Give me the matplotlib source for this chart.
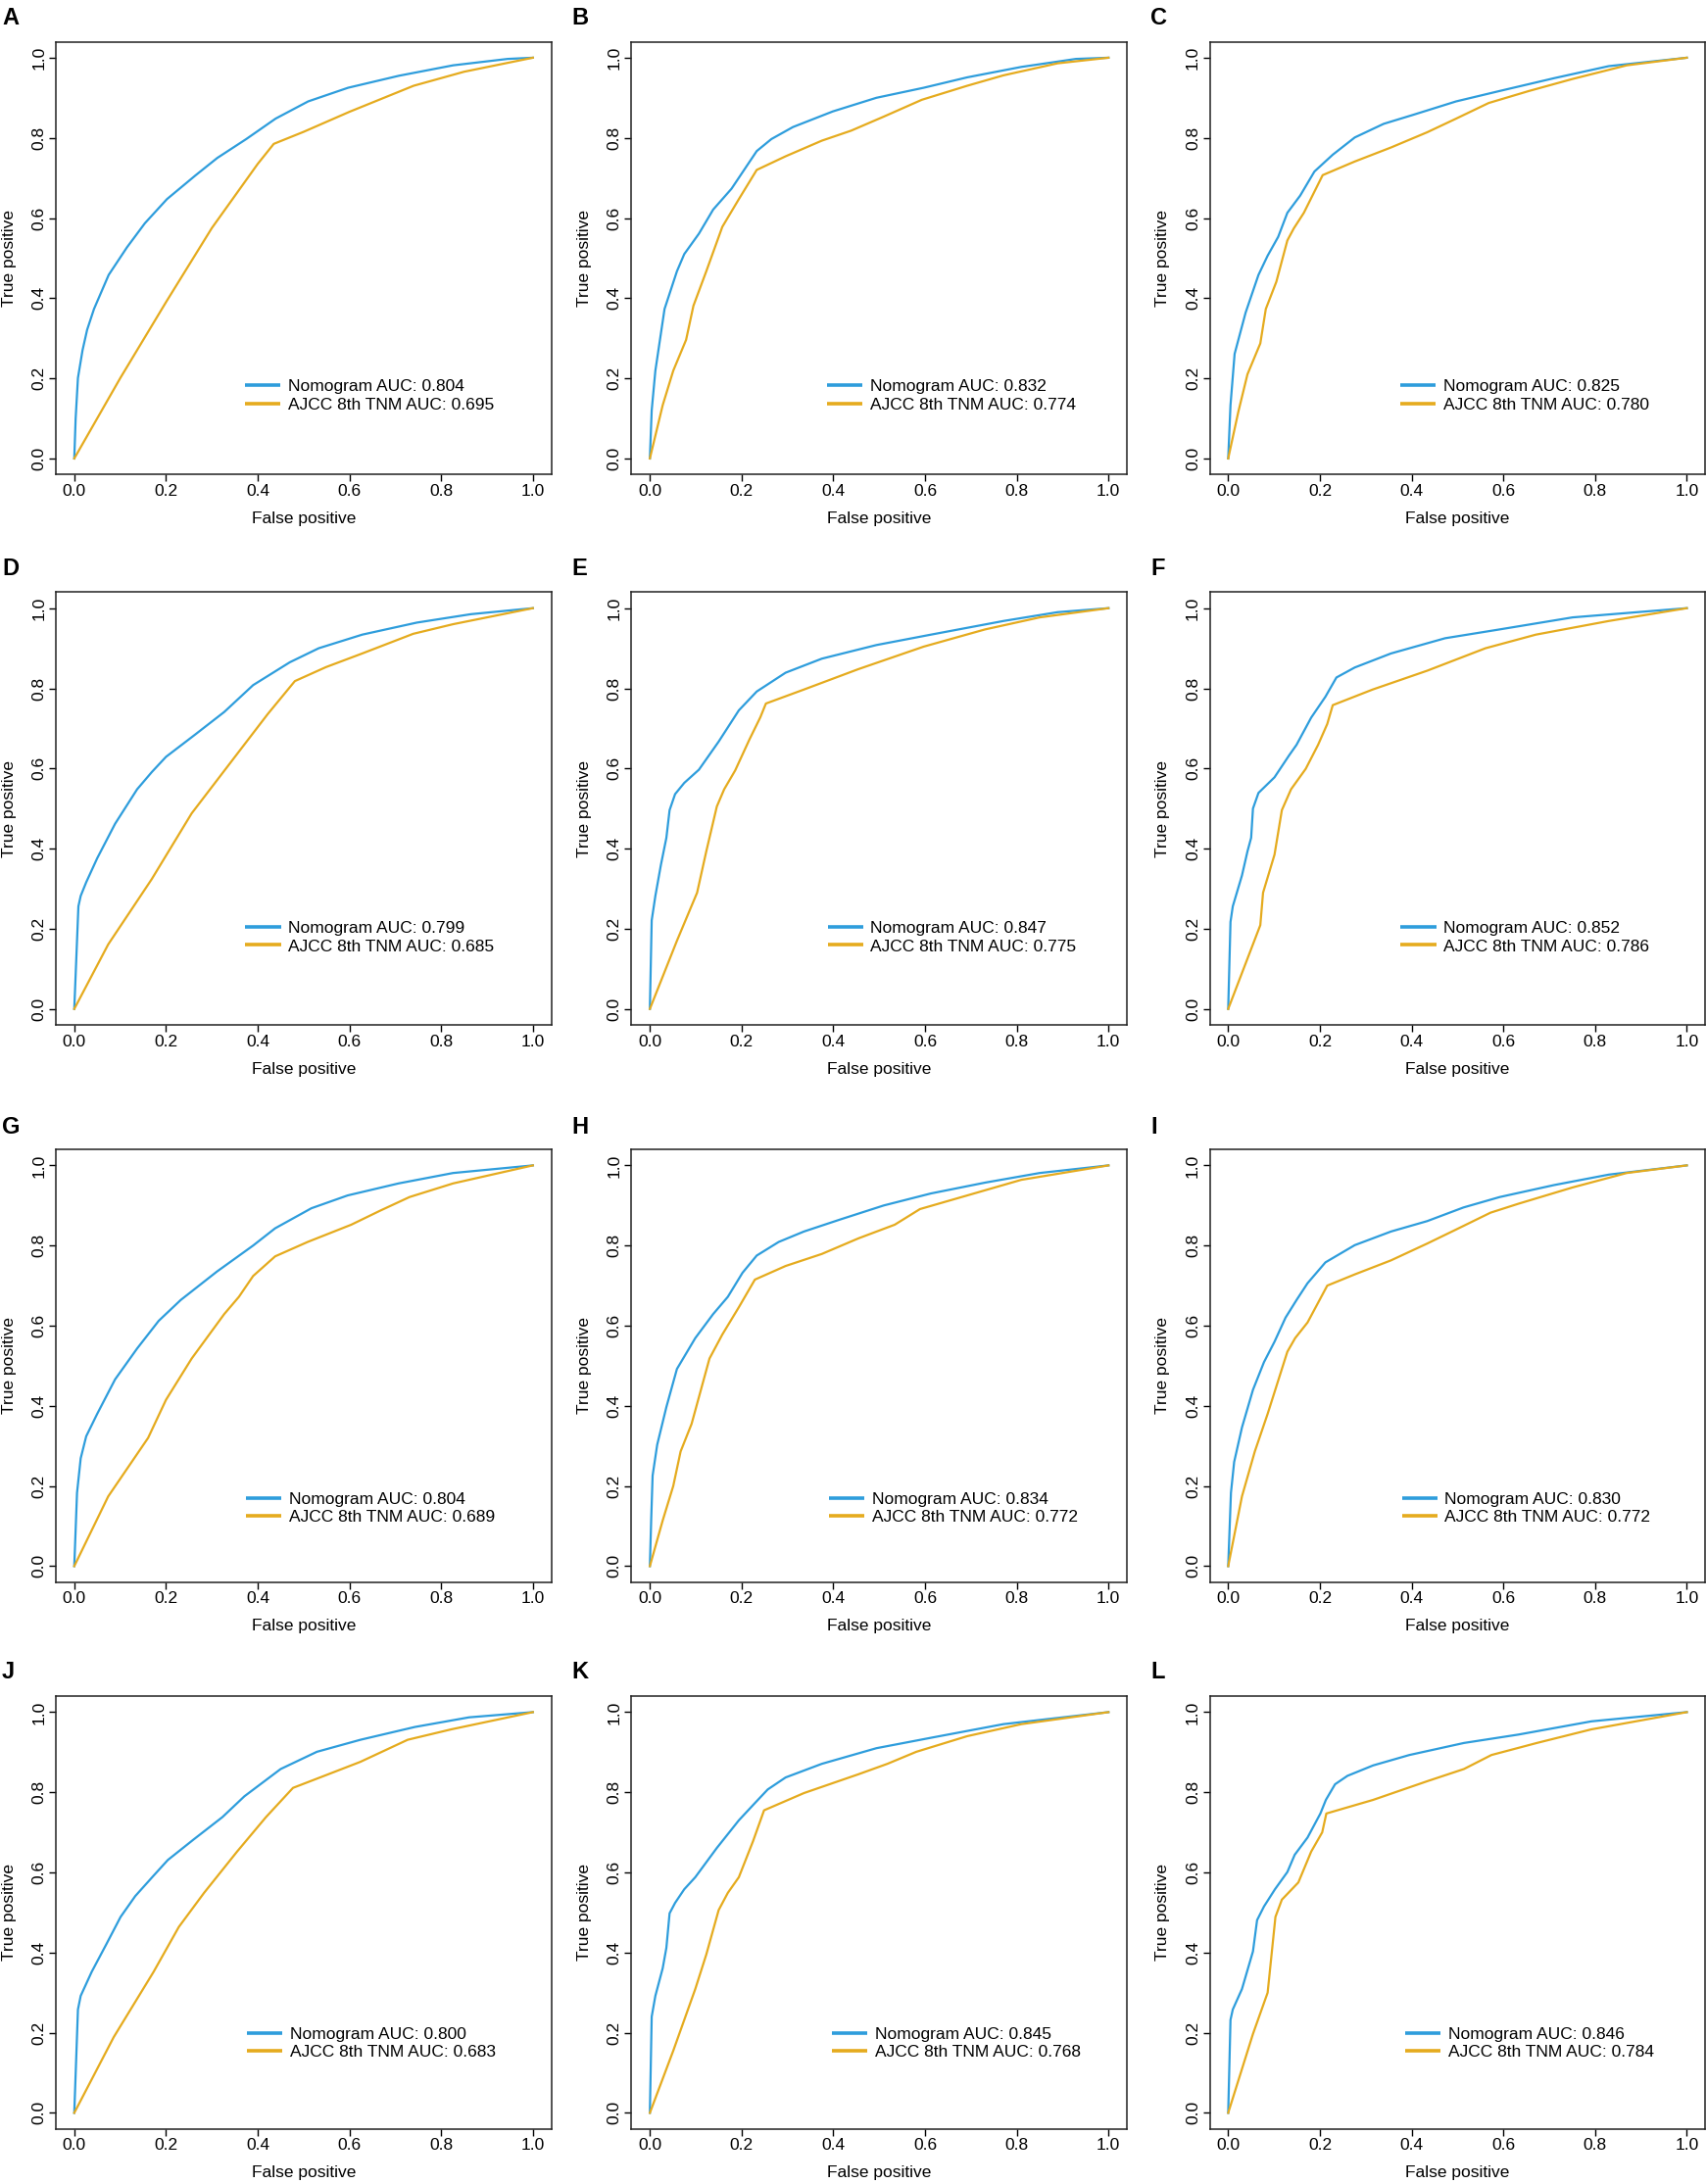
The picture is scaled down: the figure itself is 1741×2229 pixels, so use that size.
import matplotlib
matplotlib.use("Agg")
import matplotlib.pyplot as plt
from matplotlib.lines import Line2D

plt.rcParams['font.family'] = ['Liberation Sans', 'DejaVu Sans']

# ---------------- data ----------------
panel_letters = ["A", "B", "C", "D", "E", "F", "G", "H", "I", "J", "K", "L"]
nom_auc = ["0.804", "0.832", "0.825", "0.799", "0.847", "0.852",
           "0.804", "0.834", "0.830", "0.800", "0.845", "0.846"]
tnm_auc = ["0.695", "0.774", "0.780", "0.685", "0.775", "0.786",
           "0.689", "0.772", "0.772", "0.683", "0.768", "0.784"]

A_nom_x = [0, 0.003, 0.008, 0.018, 0.028, 0.043, 0.075, 0.115, 0.154, 0.202, 0.265, 0.312, 0.375, 0.439, 0.51, 0.597, 0.708, 0.826, 0.945, 1]
A_nom_y = [0, 0.10, 0.201, 0.27, 0.321, 0.373, 0.458, 0.527, 0.587, 0.647, 0.707, 0.75, 0.797, 0.848, 0.891, 0.925, 0.955, 0.981, 0.997, 1]
A_tnm_x = [0, 0.1, 0.2, 0.3, 0.35, 0.4, 0.435, 0.5, 0.6, 0.74, 0.85, 1]
A_tnm_y = [0, 0.2, 0.39, 0.575, 0.655, 0.735, 0.785, 0.815, 0.865, 0.93, 0.965, 1]

B_nom_x = [0, 0.004, 0.012, 0.032, 0.059, 0.075, 0.107, 0.138, 0.178, 0.233, 0.265, 0.312, 0.399, 0.494, 0.597, 0.692, 0.81, 0.929, 1]
B_nom_y = [0, 0.12, 0.219, 0.373, 0.467, 0.51, 0.561, 0.621, 0.673, 0.767, 0.797, 0.827, 0.866, 0.9, 0.925, 0.951, 0.977, 0.997, 1]
B_tnm_x = [0, 0.028, 0.051, 0.079, 0.095, 0.123, 0.158, 0.194, 0.233, 0.296, 0.375, 0.439, 0.51, 0.593, 0.692, 0.771, 0.889, 1]
B_tnm_y = [0, 0.133, 0.219, 0.296, 0.381, 0.467, 0.578, 0.647, 0.72, 0.754, 0.793, 0.818, 0.853, 0.895, 0.93, 0.956, 0.986, 1]

C_nom_x = [0, 0.005, 0.014, 0.038, 0.066, 0.086, 0.109, 0.129, 0.157, 0.188, 0.228, 0.276, 0.339, 0.402, 0.497, 0.592, 0.711, 0.83, 1]
C_nom_y = [0, 0.133, 0.261, 0.364, 0.458, 0.506, 0.553, 0.613, 0.656, 0.716, 0.758, 0.801, 0.835, 0.857, 0.891, 0.917, 0.949, 0.979, 1]
C_tnm_x = [0, 0.022, 0.042, 0.07, 0.082, 0.105, 0.129, 0.143, 0.165, 0.206, 0.276, 0.355, 0.434, 0.497, 0.568, 0.656, 0.751, 0.869, 1]
C_tnm_y = [0, 0.116, 0.21, 0.287, 0.373, 0.441, 0.544, 0.574, 0.613, 0.707, 0.741, 0.776, 0.814, 0.848, 0.887, 0.917, 0.947, 0.981, 1]

D_nom_x = [0, 0.009, 0.014, 0.026, 0.05, 0.089, 0.137, 0.169, 0.2, 0.264, 0.327, 0.39, 0.47, 0.533, 0.628, 0.747, 0.865, 1]
D_nom_y = [0, 0.256, 0.282, 0.316, 0.376, 0.462, 0.548, 0.591, 0.629, 0.685, 0.741, 0.808, 0.865, 0.9, 0.934, 0.964, 0.985, 1]
D_tnm_x = [0, 0.074, 0.169, 0.256, 0.359, 0.422, 0.481, 0.549, 0.628, 0.739, 0.826, 1]
D_tnm_y = [0, 0.161, 0.324, 0.488, 0.642, 0.736, 0.818, 0.853, 0.887, 0.936, 0.96, 1]

E_nom_x = [0, 0.004, 0.012, 0.024, 0.036, 0.043, 0.055, 0.075, 0.107, 0.15, 0.194, 0.233, 0.296, 0.375, 0.494, 0.613, 0.771, 0.889, 1]
E_nom_y = [0, 0.221, 0.282, 0.359, 0.427, 0.496, 0.536, 0.564, 0.597, 0.667, 0.745, 0.792, 0.839, 0.874, 0.908, 0.934, 0.968, 0.99, 1]
E_tnm_x = [0, 0.059, 0.103, 0.123, 0.146, 0.162, 0.186, 0.217, 0.241, 0.253, 0.336, 0.455, 0.597, 0.731, 0.85, 1]
E_tnm_y = [0, 0.17, 0.29, 0.393, 0.505, 0.548, 0.595, 0.672, 0.728, 0.762, 0.797, 0.848, 0.904, 0.947, 0.977, 1]

F_nom_x = [0, 0.005, 0.01, 0.03, 0.042, 0.05, 0.054, 0.066, 0.101, 0.133, 0.149, 0.181, 0.212, 0.236, 0.276, 0.355, 0.473, 0.592, 0.751, 1]
F_nom_y = [0, 0.217, 0.256, 0.333, 0.393, 0.427, 0.5, 0.539, 0.578, 0.633, 0.659, 0.727, 0.779, 0.827, 0.852, 0.887, 0.925, 0.947, 0.977, 1]
F_tnm_x = [0, 0.07, 0.076, 0.101, 0.117, 0.137, 0.169, 0.196, 0.216, 0.228, 0.315, 0.434, 0.561, 0.671, 0.83, 1]
F_tnm_y = [0, 0.209, 0.29, 0.385, 0.496, 0.548, 0.599, 0.659, 0.711, 0.758, 0.797, 0.844, 0.9, 0.934, 0.968, 1]

G_nom_x = [0, 0.006, 0.014, 0.026, 0.05, 0.089, 0.137, 0.184, 0.232, 0.311, 0.39, 0.438, 0.517, 0.596, 0.707, 0.826, 1]
G_nom_y = [0, 0.183, 0.269, 0.324, 0.38, 0.466, 0.543, 0.612, 0.664, 0.735, 0.80, 0.843, 0.893, 0.925, 0.955, 0.981, 1]
G_tnm_x = [0, 0.074, 0.161, 0.2, 0.256, 0.327, 0.359, 0.39, 0.438, 0.509, 0.604, 0.667, 0.731, 0.826, 1]
G_tnm_y = [0, 0.174, 0.32, 0.415, 0.518, 0.629, 0.672, 0.724, 0.773, 0.809, 0.852, 0.887, 0.921, 0.955, 1]

H_nom_x = [0, 0.003, 0.006, 0.016, 0.036, 0.059, 0.099, 0.138, 0.17, 0.202, 0.233, 0.281, 0.336, 0.415, 0.51, 0.613, 0.731, 0.85, 1]
H_nom_y = [0, 0.12, 0.226, 0.303, 0.397, 0.492, 0.569, 0.629, 0.672, 0.732, 0.775, 0.809, 0.835, 0.865, 0.9, 0.93, 0.957, 0.981, 1]
H_tnm_x = [0, 0.028, 0.051, 0.067, 0.091, 0.13, 0.158, 0.194, 0.229, 0.296, 0.375, 0.455, 0.534, 0.589, 0.692, 0.81, 1]
H_tnm_y = [0, 0.114, 0.2, 0.286, 0.355, 0.518, 0.578, 0.646, 0.715, 0.749, 0.779, 0.818, 0.852, 0.891, 0.925, 0.964, 1]

I_nom_x = [0, 0.006, 0.013, 0.03, 0.054, 0.078, 0.101, 0.125, 0.149, 0.173, 0.212, 0.276, 0.355, 0.434, 0.513, 0.592, 0.711, 0.83, 1]
I_nom_y = [0, 0.183, 0.26, 0.346, 0.44, 0.509, 0.56, 0.62, 0.664, 0.706, 0.758, 0.801, 0.835, 0.861, 0.895, 0.921, 0.951, 0.977, 1]
I_tnm_x = [0, 0.03, 0.058, 0.086, 0.129, 0.146, 0.173, 0.216, 0.276, 0.355, 0.434, 0.497, 0.572, 0.632, 0.751, 0.869, 1]
I_tnm_y = [0, 0.174, 0.286, 0.38, 0.535, 0.569, 0.608, 0.7, 0.728, 0.763, 0.805, 0.84, 0.882, 0.904, 0.945, 0.981, 1]

J_nom_x = [0, 0.008, 0.014, 0.038, 0.07, 0.101, 0.133, 0.173, 0.204, 0.26, 0.323, 0.371, 0.45, 0.529, 0.624, 0.743, 0.861, 1]
J_nom_y = [0, 0.258, 0.292, 0.352, 0.421, 0.489, 0.541, 0.592, 0.631, 0.682, 0.738, 0.79, 0.858, 0.901, 0.931, 0.963, 0.987, 1]
J_tnm_x = [0, 0.086, 0.173, 0.228, 0.283, 0.355, 0.418, 0.477, 0.545, 0.624, 0.727, 0.822, 1]
J_tnm_y = [0, 0.189, 0.352, 0.464, 0.549, 0.652, 0.738, 0.811, 0.841, 0.876, 0.931, 0.957, 1]

K_nom_x = [0, 0.004, 0.012, 0.028, 0.036, 0.043, 0.055, 0.075, 0.099, 0.146, 0.194, 0.229, 0.257, 0.296, 0.375, 0.494, 0.613, 0.771, 1]
K_nom_y = [0, 0.24, 0.292, 0.361, 0.412, 0.498, 0.524, 0.558, 0.588, 0.661, 0.73, 0.773, 0.807, 0.837, 0.871, 0.91, 0.936, 0.97, 1]
K_tnm_x = [0, 0.051, 0.099, 0.123, 0.15, 0.17, 0.194, 0.225, 0.249, 0.336, 0.455, 0.518, 0.581, 0.692, 0.81, 1]
K_tnm_y = [0, 0.155, 0.309, 0.395, 0.506, 0.549, 0.588, 0.678, 0.755, 0.798, 0.845, 0.871, 0.901, 0.94, 0.97, 1]

L_nom_x = [0, 0.005, 0.01, 0.03, 0.054, 0.063, 0.078, 0.102, 0.129, 0.145, 0.173, 0.201, 0.213, 0.233, 0.26, 0.316, 0.395, 0.514, 0.633, 0.792, 1]
L_nom_y = [0, 0.232, 0.258, 0.309, 0.403, 0.481, 0.515, 0.558, 0.601, 0.644, 0.687, 0.747, 0.781, 0.82, 0.841, 0.867, 0.893, 0.923, 0.944, 0.977, 1]
L_tnm_x = [0, 0.054, 0.086, 0.103, 0.117, 0.153, 0.181, 0.205, 0.214, 0.316, 0.435, 0.514, 0.574, 0.673, 0.792, 1]
L_tnm_y = [0, 0.197, 0.3, 0.489, 0.532, 0.575, 0.652, 0.7, 0.747, 0.781, 0.828, 0.858, 0.893, 0.923, 0.957, 1]

tick_values = [0.0, 0.2, 0.4, 0.6, 0.8, 1.0]
tick_labels = ["0.0", "0.2", "0.4", "0.6", "0.8", "1.0"]
x_label = "False positive"
y_label = "True positive"
series_names = ["Nomogram AUC: ", "AJCC 8th TNM AUC: "]

curves = [
    (A_nom_x, A_nom_y, A_tnm_x, A_tnm_y), (B_nom_x, B_nom_y, B_tnm_x, B_tnm_y),
    (C_nom_x, C_nom_y, C_tnm_x, C_tnm_y), (D_nom_x, D_nom_y, D_tnm_x, D_tnm_y),
    (E_nom_x, E_nom_y, E_tnm_x, E_tnm_y), (F_nom_x, F_nom_y, F_tnm_x, F_tnm_y),
    (G_nom_x, G_nom_y, G_tnm_x, G_tnm_y), (H_nom_x, H_nom_y, H_tnm_x, H_tnm_y),
    (I_nom_x, I_nom_y, I_tnm_x, I_tnm_y), (J_nom_x, J_nom_y, J_tnm_x, J_tnm_y),
    (K_nom_x, K_nom_y, K_tnm_x, K_tnm_y), (L_nom_x, L_nom_y, L_tnm_x, L_tnm_y),
]

# ---------------- layout / style ----------------
W, H = 1741, 2229
col_x0 = [75.8, 663.2, 1253.4]          # pixel x of data 0
row_y1 = [58.9, 620.7, 1189.4, 1747.4]  # pixel y of data 1
span_x, span_y = 468.0, 409.0
letter_x = [2, 583, 1174]
letter_top = [7, 569, 1139, 1695]
leg_x = [0.3716, 0.3858, 0.3745, 0.3729, 0.3874, 0.3761,
         0.3745, 0.3897, 0.3785, 0.3769, 0.3968, 0.3857]
leg_ymid = [0.156, 0.1786, 0.1442, 0.1734]

BLUE = "#2E9DDC"
GOLD = "#E5AB1E"
FS = 12.5

fig = plt.figure(figsize=(W / 100, H / 100), dpi=100)

for i, letter in enumerate(panel_letters):
    r, c = divmod(i, 3)
    left = col_x0[c] - 0.04 * span_x
    top = row_y1[r] - 0.04 * span_y
    w = 1.08 * span_x
    h = 1.08 * span_y
    ax = fig.add_axes([left / W, 1 - (top + h) / H, w / W, h / H])
    nx, ny, tx, ty = curves[i]
    ax.plot(nx, ny, color=BLUE, lw=1.6, solid_joinstyle='round')
    ax.plot(tx, ty, color=GOLD, lw=1.6, solid_joinstyle='round')
    ax.set_xlim(-0.04, 1.04)
    ax.set_ylim(-0.04, 1.04)
    ax.set_xticks(tick_values)
    ax.set_xticklabels(tick_labels)
    ax.set_yticks(tick_values)
    ax.set_yticklabels(tick_labels, rotation=90, va='center')
    ax.tick_params(direction='out', length=5, width=1.0, pad=2,
                   labelsize=FS, colors='black')
    for sp in ax.spines.values():
        sp.set_linewidth(1.1)
        sp.set_color('#222222')
    ax.set_xlabel(x_label, fontsize=FS, va='center')
    ax.xaxis.set_label_coords(0.5, -45.0 / h)
    ax.set_ylabel(y_label, fontsize=FS, va='center')
    ax.yaxis.set_label_coords(-48.0 / w, 0.5)

    handles = [Line2D([], [], color=BLUE, lw=2.6, solid_capstyle='butt'),
               Line2D([], [], color=GOLD, lw=2.6, solid_capstyle='butt')]
    labels = [series_names[0] + nom_auc[i], series_names[1] + tnm_auc[i]]
    ax.legend(handles, labels, loc='center left',
              bbox_to_anchor=(leg_x[i], leg_ymid[r]), bbox_transform=ax.transData,
              frameon=False, fontsize=FS, handlelength=2.09, handletextpad=0.44,
              labelspacing=0.2, borderpad=0, borderaxespad=0)

    fig.text(letter_x[c] / W, 1 - letter_top[r] / H, letter, fontsize=17,
             fontweight='bold', ha='left', va='top')

fig.savefig("out.png", dpi=100)
